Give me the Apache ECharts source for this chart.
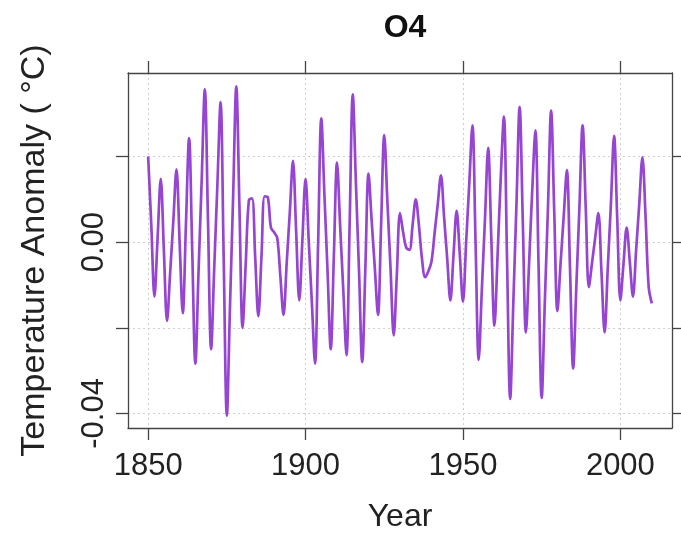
<!DOCTYPE html>
<html>
<head>
<meta charset="utf-8">
<script src="https://cdn.jsdelivr.net/npm/echarts@6/dist/echarts.min.js"></script>
<style>
html,body{margin:0;padding:0;background:#fff;}
#chart{width:681px;height:538px;}
</style>
</head>
<body>
<div id="chart"></div>
<script>
const startYear = 1850;
const anomaly = [
  0.0200, 0.0040, -0.0127, 0.0010, 0.0148, -0.0020, -0.0184, -0.0070, 0.0050, 0.0170,
  0.0000, -0.0166, 0.0040, 0.0243, -0.0020, -0.0284, -0.0070, 0.0143, 0.0357, 0.0054,
  -0.0250, -0.0058, 0.0135, 0.0327, -0.0039, -0.0405, -0.0149, 0.0108, 0.0364, 0.0082,
  -0.0200, -0.0050, 0.0098, 0.0102, -0.0035, -0.0173, -0.0033, 0.0107, 0.0105, 0.0034,
  0.0023, 0.0010, -0.0080, -0.0170, -0.0050, 0.0070, 0.0190, 0.0027, -0.0136, 0.0006,
  0.0148, 0.0004, -0.0140, -0.0284, 0.0000, 0.0289, 0.0109, -0.0070, -0.0250, -0.0030,
  0.0186, 0.0036, -0.0114, -0.0264, 0.0040, 0.0345, 0.0137, -0.0071, -0.0280, -0.0060,
  0.0160, 0.0050, -0.0060, -0.0170, 0.0040, 0.0250, 0.0094, -0.0062, -0.0218, -0.0075,
  0.0068, 0.0023, -0.0013, -0.0018, 0.0040, 0.0100, 0.0040, -0.0040, -0.0082, -0.0068,
  -0.0045, 0.0022, 0.0089, 0.0156, 0.0059, -0.0039, -0.0136, -0.0030, 0.0073, -0.0030,
  -0.0139, -0.0002, 0.0136, 0.0273, 0.0000, -0.0275, -0.0110, 0.0055, 0.0220, 0.0010,
  -0.0195, -0.0030, 0.0150, 0.0293, -0.0040, -0.0366, -0.0140, 0.0090, 0.0316, 0.0050,
  -0.0211, -0.0050, 0.0120, 0.0261, -0.0050, -0.0364, -0.0140, 0.0080, 0.0307, 0.0070,
  -0.0161, -0.0050, 0.0060, 0.0168, -0.0060, -0.0295, -0.0106, 0.0083, 0.0273, 0.0080,
  -0.0105, -0.0048, 0.0010, 0.0068, -0.0070, -0.0211, -0.0060, 0.0090, 0.0248, 0.0056,
  -0.0136, -0.0050, 0.0034, -0.0046, -0.0127, -0.0019, 0.0089, 0.0198, 0.0060, -0.0105,
  -0.0143
];
const xTicks = [1850, 1900, 1950, 2000];
const yTicks = [-0.04, -0.02, 0, 0.02];
const yLabelValues = [-0.04, 0];
const titleText = 'O4';
const xTitle = 'Year';
const yTitle = 'Temperature Anomaly ( °C)';

const xMin = 1843.6, xMax = 2016.4;
const yMin = -0.0434, yMax = 0.0395;

const FONT = 'Liberation Sans, Arial, Helvetica, sans-serif';
const axisColor = '#444';
const gridLine = { show: true, lineStyle: { color: '#cfcfcf', type: [2, 3], width: 1 } };

const chart = echarts.init(document.getElementById('chart'), null, { renderer: 'canvas' });
chart.setOption({
  animation: false,
  backgroundColor: '#fff',
  title: {
    text: titleText, left: 400, top: 7, textAlign: 'center',
    textStyle: { fontFamily: FONT, fontSize: 32, fontWeight: 'bold', color: '#111' }
  },
  grid: { left: 128, right: 9, top: 73, bottom: 100, containLabel: false },
  xAxis: [
    {
      type: 'value', position: 'bottom', min: xMin, max: xMax,
      name: xTitle, nameLocation: 'middle', nameGap: 73,
      nameTextStyle: { fontFamily: FONT, fontSize: 32, color: '#222' },
      axisLine: { show: true, onZero: false, lineStyle: { color: axisColor, width: 1.3 } },
      axisTick: { show: true, inside: false, length: 12, customValues: xTicks, lineStyle: { color: axisColor, width: 1.3 } },
      axisLabel: { show: true, customValues: xTicks, margin: 23, fontFamily: FONT, fontSize: 31, color: '#222', formatter: v => String(v) },
      splitLine: gridLine
    },
    {
      type: 'value', position: 'top', min: xMin, max: xMax,
      axisLine: { show: true, onZero: false, lineStyle: { color: axisColor, width: 1.3 } },
      axisTick: { show: true, length: 12, customValues: xTicks, lineStyle: { color: axisColor, width: 1.3 } },
      axisLabel: { show: false },
      splitLine: { show: false }
    }
  ],
  yAxis: [
    {
      type: 'value', position: 'left', min: yMin, max: yMax,
      name: yTitle, nameLocation: 'middle', nameGap: 76, nameRotate: 90,
      nameTextStyle: { fontFamily: FONT, fontSize: 34, color: '#222' },
      axisLine: { show: true, onZero: false, lineStyle: { color: axisColor, width: 1.3 } },
      axisTick: { show: true, length: 12, customValues: yTicks, lineStyle: { color: axisColor, width: 1.3 } },
      axisLabel: { show: true, customValues: yLabelValues, rotate: 90, margin: 18, fontFamily: FONT, fontSize: 31, color: '#222', formatter: v => v.toFixed(2) },
      splitLine: gridLine
    },
    {
      type: 'value', position: 'right', min: yMin, max: yMax,
      axisLine: { show: true, onZero: false, lineStyle: { color: axisColor, width: 1.3 } },
      axisTick: { show: true, length: 12, customValues: yTicks, lineStyle: { color: axisColor, width: 1.3 } },
      axisLabel: { show: false },
      splitLine: { show: false }
    }
  ],
  series: [{
    type: 'line', xAxisIndex: 0, yAxisIndex: 0,
    showSymbol: false, smooth: 0.35,
    data: anomaly.map((v, i) => [startYear + i, v]),
    lineStyle: { color: '#9645d3', width: 2.7 },
    z: 5
  }]
});
</script>
</body>
</html>
